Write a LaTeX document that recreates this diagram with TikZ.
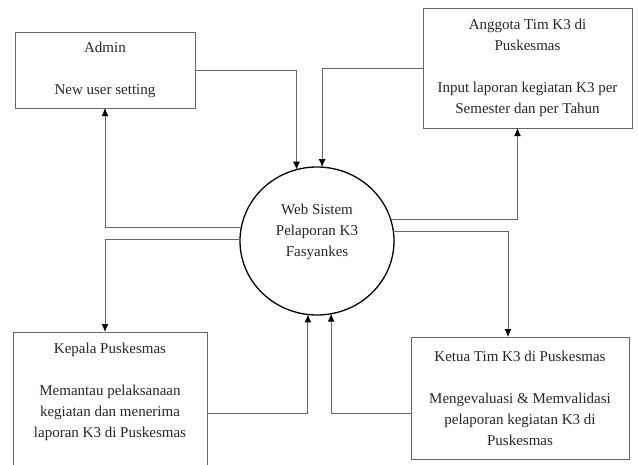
\documentclass[tikz,border=0pt]{standalone}
\usepackage{fontspec}
\setmainfont{Liberation Serif}
\usetikzlibrary{positioning}
\usetikzlibrary{calc}
\usetikzlibrary{arrows.meta,shapes.geometric}

\begin{document}
\begin{tikzpicture}[x=1pt,y=-1pt,
  entity/.style={draw=black!60,line width=1pt,rectangle,align=center,inner sep=0pt,outer sep=0pt,text=black!85,font=\fontsize{15}{21}\selectfont},
  flow/.style={draw=black!60,line width=1pt,-{Latex[length=8pt,width=7pt,color=black]}}]
\clip (0,0) rectangle (638,464);

\node[entity,minimum width=180,minimum height=76](admin) at (105,70){Admin\\[21pt]New user setting};
\node[entity,minimum width=209,minimum height=120](anggota) at (527.5,68){Anggota Tim K3 di\\Puskesmas\\[21pt]Input laporan kegiatan K3 per\\Semester dan per Tahun};
\node[entity,minimum width=194,minimum height=144](kepala) at (110,404){Kepala Puskesmas\\[21pt]Memantau pelaksanaan\\kegiatan dan menerima\\laporan K3 di Puskesmas\\\strut};
\node[entity,minimum width=218,minimum height=122](ketua) at (520,398){Ketua Tim K3 di Puskesmas\\[21pt]Mengevaluasi \& Memvalidasi\\pelaporan kegiatan K3 di\\Puskesmas};
\node[draw=black,line width=1.3pt,ellipse,minimum width=154,minimum height=148,inner sep=0pt,outer sep=0pt,
  label={[align=center,yshift=9pt,text=black!85,font=\fontsize{15}{21}\selectfont]center:Web Sistem\\Pelaporan K3\\Fasyankes}](web) at (317,241){};

% admin
\draw[flow] (admin.east) -| (web.106);
\draw[flow] (web.170) -| (admin.south);
% anggota
\draw[flow] (anggota.west) -| (web.86);
\draw[flow] (web.16) -| ([xshift=-10pt]anggota.south);
% kepala
\draw[flow] (web.179) -| (admin.south |- kepala.north);
\draw[flow] ([yshift=-9pt]kepala.east) -| (web.263);
% ketua
\draw[flow] (web.7) -| ([xshift=-12pt]ketua.north);
\draw[flow] ([yshift=-15pt]ketua.west) -| (web.281);
\end{tikzpicture}
\end{document}
